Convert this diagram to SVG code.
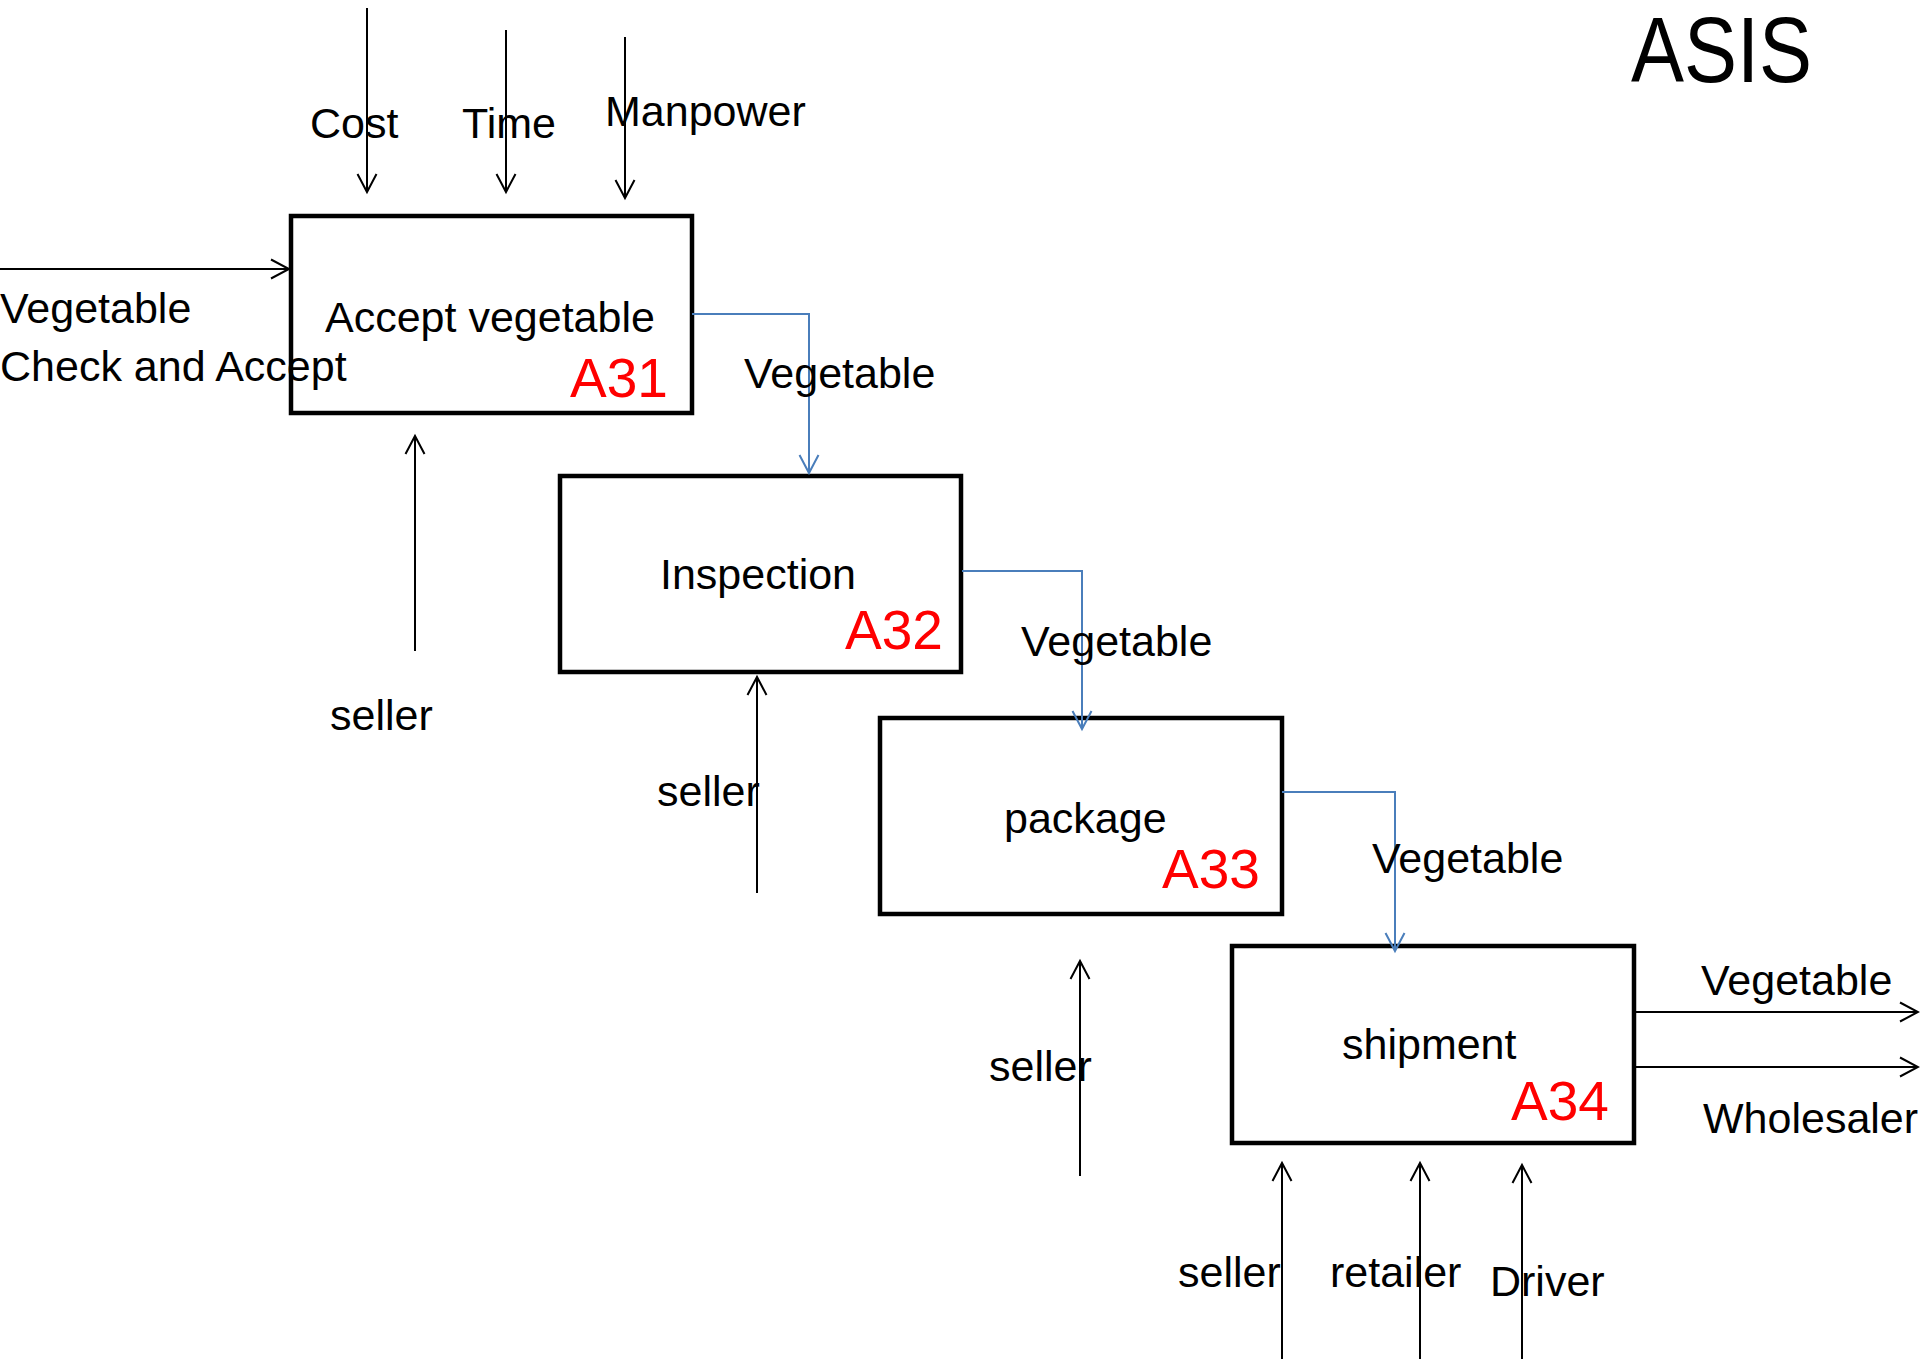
<svg xmlns="http://www.w3.org/2000/svg" width="1920" height="1359" viewBox="0 0 1920 1359">
  <style>
    .box { fill: #ffffff; stroke: #000000; stroke-width: 4.5; }
    .lbl { font-family: "Liberation Sans", Arial, sans-serif; font-size: 43px; fill: #000000; }
    .code { font-family: "Liberation Sans", Arial, sans-serif; font-size: 55px; fill: #ff0000; }
    .title { font-family: "Liberation Sans", Arial, sans-serif; font-size: 93px; fill: #000000; }
    .k { fill: none; stroke: #000000; stroke-width: 2; }
    .b { fill: none; stroke: #4a7ebb; stroke-width: 2; }
  </style>
  <defs>
    <marker id="arrK" viewBox="-20 -12 24 24" refX="0" refY="0" markerWidth="24" markerHeight="24" markerUnits="userSpaceOnUse" orient="auto" overflow="visible">
      <path d="M-18,-9.5 L0,0 L-18,9.5" fill="none" stroke="#000000" stroke-width="2"/>
    </marker>
    <marker id="arrB" viewBox="-20 -12 24 24" refX="0" refY="0" markerWidth="24" markerHeight="24" markerUnits="userSpaceOnUse" orient="auto" overflow="visible">
      <path d="M-18,-9.5 L0,0 L-18,9.5" fill="none" stroke="#4a7ebb" stroke-width="2"/>
    </marker>
  </defs>

  <rect width="1920" height="1359" fill="#ffffff"/>

  <text class="title" x="1631" y="82" textLength="181" lengthAdjust="spacingAndGlyphs">ASIS</text>

  <!-- activity boxes -->
  <g id="A31">
    <rect class="box" x="291" y="216" width="401" height="197"/>
    <text class="lbl" x="325" y="332">Accept vegetable</text>
    <text class="code" x="570" y="397">A31</text>
  </g>
  <g id="A32">
    <rect class="box" x="560" y="476" width="401" height="196"/>
    <text class="lbl" x="660" y="589">Inspection</text>
    <text class="code" x="845" y="649">A32</text>
  </g>
  <g id="A33">
    <rect class="box" x="880" y="718" width="402" height="196"/>
    <text class="lbl" x="1004" y="833">package</text>
    <text class="code" x="1162" y="888">A33</text>
  </g>
  <g id="A34">
    <rect class="box" x="1232" y="946" width="402" height="197"/>
    <text class="lbl" x="1342" y="1059">shipment</text>
    <text class="code" x="1511" y="1120">A34</text>
  </g>

  <!-- inputs, controls, mechanisms and flows -->
  <g id="connectors">
    <path class="k" d="M367,8 V192" marker-end="url(#arrK)"/>
    <path class="k" d="M506,30 V192" marker-end="url(#arrK)"/>
    <path class="k" d="M625,37 V198" marker-end="url(#arrK)"/>
    <path class="k" d="M0,269 H289" marker-end="url(#arrK)"/>
    <path class="k" d="M415,651 V436" marker-end="url(#arrK)"/>
    <path class="b" d="M692,314 H809 V473" marker-end="url(#arrB)"/>
    <path class="b" d="M962,571 H1082 V729" marker-end="url(#arrB)"/>
    <path class="k" d="M757,893 V677" marker-end="url(#arrK)"/>
    <path class="b" d="M1282,792 H1395 V951" marker-end="url(#arrB)"/>
    <path class="k" d="M1080,1176 V961" marker-end="url(#arrK)"/>
    <path class="k" d="M1634,1012 H1918" marker-end="url(#arrK)"/>
    <path class="k" d="M1634,1067 H1918" marker-end="url(#arrK)"/>
    <path class="k" d="M1282,1359 V1163" marker-end="url(#arrK)"/>
    <path class="k" d="M1420,1359 V1163" marker-end="url(#arrK)"/>
    <path class="k" d="M1522,1359 V1165" marker-end="url(#arrK)"/>
  </g>

  <!-- arrow labels -->
  <g id="labels">
    <text class="lbl" x="310" y="138">Cost</text>
    <text class="lbl" x="462" y="138">Time</text>
    <text class="lbl" x="605" y="126">Manpower</text>
    <text class="lbl" x="0" y="323">Vegetable</text>
    <text class="lbl" x="0" y="381">Check and Accept</text>
    <text class="lbl" x="744" y="388">Vegetable</text>
    <text class="lbl" x="330" y="730">seller</text>
    <text class="lbl" x="1021" y="656">Vegetable</text>
    <text class="lbl" x="657" y="806">seller</text>
    <text class="lbl" x="1372" y="873">Vegetable</text>
    <text class="lbl" x="989" y="1081">seller</text>
    <text class="lbl" x="1701" y="995">Vegetable</text>
    <text class="lbl" x="1703" y="1133">Wholesaler</text>
    <text class="lbl" x="1178" y="1287">seller</text>
    <text class="lbl" x="1330" y="1287">retailer</text>
    <text class="lbl" x="1490" y="1296">Driver</text>
  </g>
</svg>
